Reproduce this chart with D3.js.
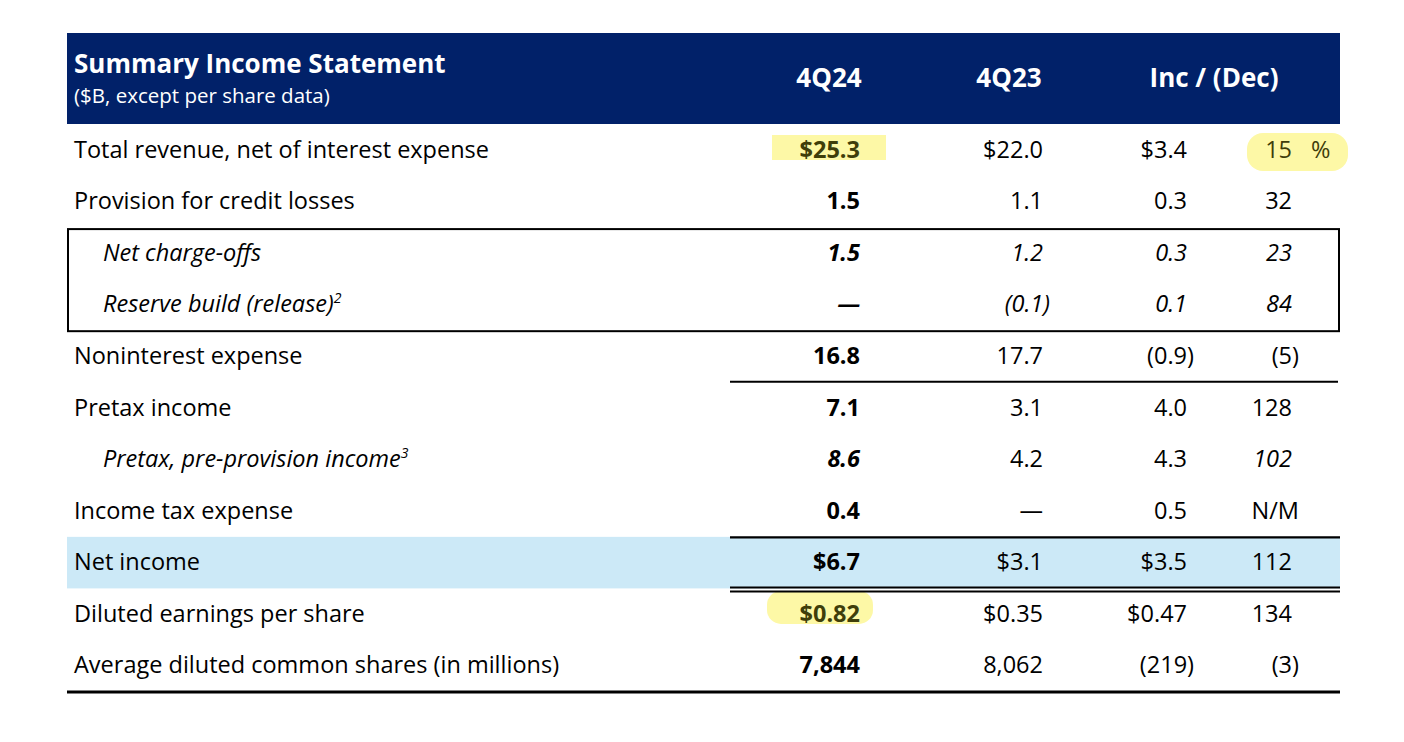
<!DOCTYPE html>
<html>
<head>
<meta charset="utf-8">
<script src="https://cdn.jsdelivr.net/npm/d3@7"></script>
<style>
  html, body { margin: 0; padding: 0; background: #ffffff; }
  svg { display: block; font-family: "Open Sans", Lato, sans-serif; }
</style>
</head>
<body>
<svg id="chart" width="1404" height="742"></svg>
<script>
// ---------------- DATA ----------------
const title = "Summary Income Statement";
const subtitle = "($B, except per share data)";
const columns = ["4Q24", "4Q23", "Inc / (Dec)"];

const labels = [
  "Total revenue, net of interest expense",
  "Provision for credit losses",
  "Net charge-offs",
  "Reserve build (release)",
  "Noninterest expense",
  "Pretax income",
  "Pretax, pre-provision income",
  "Income tax expense",
  "Net income",
  "Diluted earnings per share",
  "Average diluted common shares (in millions)"
];
const footnotes = [null, null, null, "2", null, null, "3", null, null, null, null];
const italicRows = [2, 3, 6];

const q424   = ["$25.3", "1.5", "1.5", "—", "16.8", "7.1", "8.6", "0.4", "$6.7", "$0.82", "7,844"];
const q423   = ["$22.0", "1.1", "1.2", "(0.1)", "17.7", "3.1", "4.2", "—", "$3.1", "$0.35", "8,062"];
const incDec = ["$3.4", "0.3", "0.3", "0.1", "(0.9)", "4.0", "4.3", "0.5", "$3.5", "$0.47", "(219)"];
const pctChg = ["15", "32", "23", "84", "(5)", "128", "102", "N/M", "112", "134", "(3)"];

// ---------------- LAYOUT ----------------
const svg = d3.select("#chart");
const left = 67, right = 1340;
const headTop = 33, headBottom = 124;
const tableBottom = 691;
const navy = "#012169";
const lightBlue = "#cce9f7";
const yellow = "#fdf8a6";
const hiText = "#3f3e0a";
const fs = 23.5;

const y = d3.scaleBand().domain(d3.range(labels.length)).range([headBottom, tableBottom]);
const rowMid = i => y(i) + y.bandwidth() / 2;

// right-edge positions of the value columns
const colX = d3.scaleOrdinal().domain(["q424", "q423", "inc", "pct"]).range([860, 1043, 1187, 1292]);
const headX = d3.scaleOrdinal().domain(columns).range([829, 1009, 1214]);

// ---------------- HEADER ----------------
svg.append("rect").attr("x", left).attr("y", headTop)
  .attr("width", right - left).attr("height", headBottom - headTop).attr("fill", navy);
svg.append("text").attr("x", 74).attr("y", 73).attr("fill", "#fff")
  .attr("font-size", 26).attr("font-weight", 700).text(title);
svg.append("text").attr("x", 74).attr("y", 102.5).attr("fill", "#fff")
  .attr("font-size", 20.5).text(subtitle);
svg.selectAll("text.colhead").data(columns).join("text")
  .attr("class", "colhead")
  .attr("x", d => headX(d)).attr("y", 87).attr("text-anchor", "middle")
  .attr("fill", "#fff").attr("font-size", 26).attr("font-weight", 700).text(d => d);

// ---------------- BACKGROUNDS ----------------
const niRow = labels.indexOf("Net income");
svg.append("rect").attr("x", left).attr("y", y(niRow) + 0.5)
  .attr("width", right - left).attr("height", y.bandwidth()).attr("fill", lightBlue);

// highlights
svg.append("rect").attr("x", 772).attr("y", y(0) + 11).attr("width", 114).attr("height", 25).attr("fill", yellow);
svg.append("rect").attr("x", 1247).attr("y", y(0) + 9).attr("width", 101).attr("height", 38)
  .attr("rx", 16).attr("fill", yellow);
const epsRow = labels.indexOf("Diluted earnings per share");
svg.append("rect").attr("x", 767).attr("y", y(epsRow) + 3).attr("width", 106).attr("height", 33)
  .attr("rx", 14).attr("fill", yellow);

// ---------------- RULES ----------------
function hline(x1, x2, yy, w) {
  svg.append("line").attr("x1", x1).attr("x2", x2).attr("y1", yy).attr("y2", yy)
    .attr("stroke", "#000").attr("stroke-width", w);
}
// box around charge-off detail rows
svg.append("rect").attr("x", left + 1).attr("y", y(2) + 2)
  .attr("width", right - left - 2).attr("height", y(4) - y(2) - 1)
  .attr("fill", "none").attr("stroke", "#000").attr("stroke-width", 2);
// under noninterest expense
hline(730, 1338, y(5), 2);
// above net income
hline(730, 1340, y(niRow) + 1, 2.2);
// double rule below net income
hline(730, 1340, y(niRow + 1) - 0.5, 2);
hline(730, 1340, y(niRow + 1) + 3.5, 2);
// bottom rule
hline(left, right, tableBottom + 1, 3);

// ---------------- ROW LABELS ----------------
const rows = labels.map((l, i) => ({
  i, label: l, note: footnotes[i], italic: italicRows.includes(i),
  vals: [q424[i], q423[i], incDec[i], pctChg[i]]
}));

const lab = svg.selectAll("text.label").data(rows).join("text")
  .attr("class", "label")
  .attr("x", d => d.italic ? 103 : 74)
  .attr("y", d => rowMid(d.i) + 8)
  .attr("font-size", fs)
  .attr("font-style", d => d.italic ? "italic" : "normal")
  .attr("fill", "#000");
lab.append("tspan").text(d => d.label);
lab.filter(d => d.note).append("tspan")
  .attr("font-size", 14).attr("dy", -9).text(d => d.note);

// ---------------- VALUES ----------------
const keys = ["q424", "q423", "inc", "pct"];
const cells = [];
rows.forEach(r => r.vals.forEach((v, c) => cells.push({ row: r, c, v })));

function hang(v) { return v.endsWith(")") ? 7 : (v === "N/M" ? 7 : 0); }

svg.selectAll("text.val").data(cells).join("text")
  .attr("class", "val")
  .attr("x", d => colX(keys[d.c]) + hang(d.v))
  .attr("y", d => rowMid(d.row.i) + 8)
  .attr("text-anchor", "end")
  .attr("font-size", fs)
  .attr("font-weight", d => d.c === 0 ? 700 : 400)
  .attr("font-style", d => d.row.italic && !(d.row.i === 6 && (d.c === 1 || d.c === 2)) ? "italic" : "normal")
  .attr("fill", d => (d.row.i === 0 && (d.c === 0 || d.c === 3)) || (d.row.i === epsRow && d.c === 0) ? hiText : "#000")
  .text(d => d.v);

// percent sign on first row
svg.append("text").attr("x", 1311).attr("y", rowMid(0) + 8)
  .attr("font-size", fs).attr("fill", hiText).text("%");
</script>
</body>
</html>
